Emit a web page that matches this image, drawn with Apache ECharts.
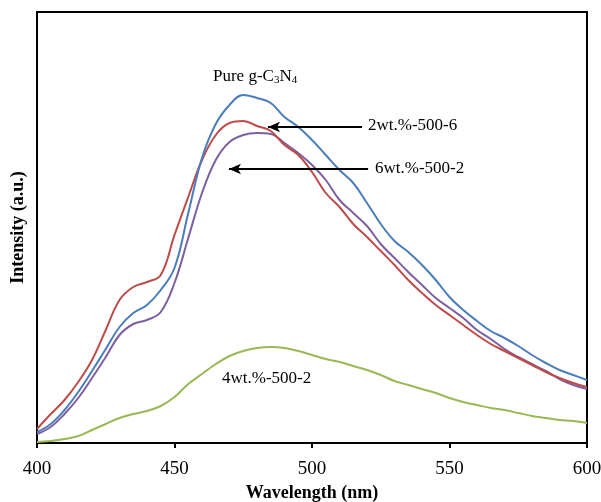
<!DOCTYPE html>
<html>
<head>
<meta charset="utf-8">
<title>PL spectra</title>
<script src="https://cdn.jsdelivr.net/npm/echarts@6/dist/echarts.min.js"></script>
<style>
    html, body { margin: 0; padding: 0; background: #fff; }
    #chart { width: 601px; height: 502px; }
</style>
</head>
<body>
<div id="chart"></div>
<script>
// wavelength, 400..600 nm every 5 nm
var wavelength = [];
for (var w = 400; w <= 600; w += 5) wavelength.push(w);

// intensities (a.u.)
var pureCN = [11, 19, 33, 51, 72, 94, 116, 130, 138, 153, 175, 230, 285, 319, 338, 348, 345, 340, 326, 316, 303,
              288, 273, 260, 240, 219, 202, 191, 178, 163, 146, 133, 122, 112, 105, 97, 88, 80, 73, 68, 63];
var s2wt5006 = [14, 29, 43, 61, 83, 113, 143, 156, 161, 168, 208, 246, 283, 308, 320, 322, 317, 312, 298, 288, 271,
                250, 236, 219, 206, 192, 178, 163, 150, 138, 128, 118, 108, 99, 92, 85, 78, 71, 65, 60, 56];
var s6wt5002 = [9, 16, 29, 45, 65, 86, 108, 119, 123, 131, 160, 205, 250, 283, 301, 308, 310, 309, 300, 290, 278,
                263, 243, 230, 217, 199, 185, 171, 158, 145, 135, 125, 113, 104, 94, 86, 79, 72, 64, 58, 54];
var s4wt5002 = [1, 2, 4, 7, 13, 19, 25, 29, 32, 37, 46, 59, 69, 79, 87, 92, 95, 96, 95, 92, 88,
                84, 81, 77, 73, 68, 62, 58, 54, 50, 45, 41, 38, 35, 33, 30, 27, 25, 23, 22, 20];

var xTicks = [400, 450, 500, 550, 600];

function pairs(ys) {
    return wavelength.map(function (x, i) { return [x, ys[i]]; });
}

var serif = 'Liberation Serif';

function line(name, color, ys, extra) {
    var s = {
        name: name,
        type: 'line',
        data: pairs(ys),
        smooth: 0.4,
        showSymbol: false,
        lineStyle: { color: color, width: 2 },
        itemStyle: { color: color },
        z: 3
    };
    if (extra) s.markLine = extra;
    return s;
}

function arrow(x1, x2, y) {
    return {
        silent: true,
        animation: false,
        lineStyle: { color: '#000', width: 2, type: 'solid' },
        label: { show: false },
        symbolSize: [8, 12],
        data: [[{ coord: [x1, y], symbol: 'none' }, { coord: [x2, y], symbol: 'arrow' }]]
    };
}

var myChart = echarts.init(document.getElementById('chart'));
myChart.setOption({
    animation: false,
    backgroundColor: '#fff',
    grid: {
        left: 37, right: 14, top: 12, bottom: 59,
        outerBoundsMode: 'none',
        containLabel: false,
        show: true, borderColor: '#000', borderWidth: 2
    },
    xAxis: {
        type: 'value',
        min: 400, max: 600, interval: 50,
        name: 'Wavelength (nm)',
        nameLocation: 'middle',
        nameGap: 36,
        nameTextStyle: { fontFamily: serif, fontWeight: 'bold', fontSize: 18, color: '#000' },
        axisLine: { lineStyle: { color: '#000', width: 2 } },
        axisTick: { inside: false, length: 5, lineStyle: { color: '#000', width: 2 } },
        axisLabel: {
            fontFamily: serif, fontSize: 19, color: '#000', margin: 17,
            formatter: function (v) { return xTicks.indexOf(v) >= 0 ? v : ''; }
        },
        splitLine: { show: false }
    },
    yAxis: {
        type: 'value',
        min: 0, max: 431,
        name: 'Intensity (a.u.)',
        nameLocation: 'middle',
        nameGap: 10,
        nameRotate: 90,
        nameTextStyle: { fontFamily: serif, fontWeight: 'bold', fontSize: 18, color: '#000' },
        axisLine: { show: true, lineStyle: { color: '#000', width: 2 } },
        axisTick: { show: false },
        axisLabel: { show: false },
        splitLine: { show: false }
    },
    series: [
        line('4wt.%-500-2', '#98b954', s4wt5002),
        line('6wt.%-500-2', '#7d60a0', s6wt5002, arrow(520.4, 469.8, 274)),
        line('2wt.%-500-6', '#be4b48', s2wt5006, arrow(518.2, 484, 316)),
        line('Pure g-C3N4', '#4a7ebb', pureCN)
    ],
    graphic: [
        {
            type: 'text', left: 213, top: 68,
            style: {
                text: 'Pure g-C{s|3}N{s|4}',
                font: '17px "Liberation Serif"', fill: '#000',
                rich: { s: { fontSize: 11, fontFamily: serif, verticalAlign: 'bottom', padding: [8, 0, 0, 0] } }
            }
        },
        { type: 'text', left: 368, top: 117, style: { text: '2wt.%-500-6', font: '17px "Liberation Serif"', fill: '#000' } },
        { type: 'text', left: 375, top: 160, style: { text: '6wt.%-500-2', font: '17px "Liberation Serif"', fill: '#000' } },
        { type: 'text', left: 222, top: 370, style: { text: '4wt.%-500-2', font: '17px "Liberation Serif"', fill: '#000' } }
    ]
});
</script>
</body>
</html>
